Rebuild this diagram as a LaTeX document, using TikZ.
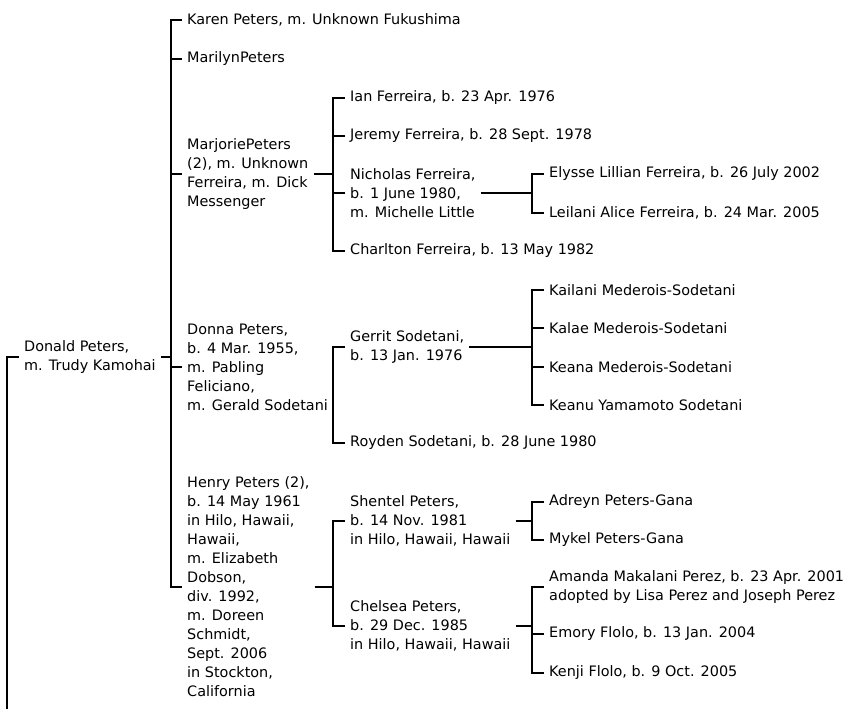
\documentclass[tikz,border=0pt]{standalone}
\usepackage{fontspec}
\setmainfont{DejaVu Sans}
\usepackage{tikz}

\begin{document}
\begin{tikzpicture}[x=1pt,y=-1pt,line join=miter,
  pers/.style={anchor=west,align=left,inner xsep=5pt,inner ysep=0pt,font=\fontsize{14.4}{19}\selectfont},
  link/.style={line width=1.5pt}]
\clip (0,0) rectangle (843,709);
\coordinate (root) at (7,715);
\coordinate (busA) at (171,0);
\coordinate (busB) at (333,0);
\coordinate (busC) at (532,0);
\node[pers] (donald) at (19,357) {Donald Peters,\\m. Trudy Kamohai};
\node[pers] (karen) at (182,20) {Karen Peters, m. Unknown Fukushima};
\node[pers] (marilyn) at (182,59) {MarilynPeters};
\node[pers] (marjorie) at (182,174) {MarjoriePeters\\(2), m. Unknown\\Ferreira, m. Dick\\Messenger};
\node[pers] (donna) at (182,367) {Donna Peters,\\b. 4 Mar. 1955,\\m. Pabling\\Feliciano,\\m. Gerald Sodetani};
\node[pers] (henry) at (182,587) {Henry Peters (2),\\b. 14 May 1961\\in Hilo, Hawaii,\\Hawaii,\\m. Elizabeth\\Dobson,\\div. 1992,\\m. Doreen\\Schmidt,\\Sept. 2006\\in Stockton,\\California};
\node[pers] (ian) at (345,98) {Ian Ferreira, b. 23 Apr. 1976};
\node[pers] (jeremy) at (345,136) {Jeremy Ferreira, b. 28 Sept. 1978};
\node[pers] (nicholas) at (345,193) {Nicholas Ferreira,\\b. 1 June 1980,\\m. Michelle Little};
\node[pers] (charlton) at (345,251) {Charlton Ferreira, b. 13 May 1982};
\node[pers] (gerrit) at (345,347) {Gerrit Sodetani,\\b. 13 Jan. 1976};
\node[pers] (royden) at (345,443) {Royden Sodetani, b. 28 June 1980};
\node[pers] (shentel) at (345,521) {Shentel Peters,\\b. 14 Nov. 1981\\in Hilo, Hawaii, Hawaii};
\node[pers] (chelsea) at (345,626) {Chelsea Peters,\\b. 29 Dec. 1985\\in Hilo, Hawaii, Hawaii};
\node[pers] (elysse) at (544,174) {Elysse Lillian Ferreira, b. 26 July 2002};
\node[pers] (leilani) at (544,213) {Leilani Alice Ferreira, b. 24 Mar. 2005};
\node[pers] (kailani) at (544,290) {Kailani Mederois-Sodetani};
\node[pers] (kalae) at (544,328) {Kalae Mederois-Sodetani};
\node[pers] (keana) at (544,367) {Keana Mederois-Sodetani};
\node[pers] (keanu) at (544,405) {Keanu Yamamoto Sodetani};
\node[pers] (adreyn) at (544,502) {Adreyn Peters-Gana};
\node[pers] (mykel) at (544,540) {Mykel Peters-Gana};
\node[pers] (amanda) at (544,587) {Amanda Makalani Perez, b. 23 Apr. 2001\\adopted by Lisa Perez and Joseph Perez};
\node[pers] (emory) at (544,634) {Emory Flolo, b. 13 Jan. 2004};
\node[pers] (kenji) at (544,673) {Kenji Flolo, b. 9 Oct. 2005};
\draw[link] (donald.west) -| (root);
\draw[link] (donald.east) -- (donald.east -| busA);
\draw[link] (karen.west) -| (busA |- henry.west) -- (henry.west);
\draw[link] (marilyn.west) -- (marilyn.west -| busA);
\draw[link] (marjorie.west) -- (marjorie.west -| busA);
\draw[link] (donna.west) -- (donna.west -| busA);
\draw[link] (marjorie.east) -- (marjorie.east -| busB);
\draw[link] (ian.west) -| (busB |- charlton.west) -- (charlton.west);
\draw[link] (jeremy.west) -- (jeremy.west -| busB);
\draw[link] (nicholas.west) -- (nicholas.west -| busB);
\draw[link] (nicholas.east) -- (nicholas.east -| busC);
\draw[link] (elysse.west) -| (busC |- leilani.west) -- (leilani.west);
\draw[link] (donna.east) -- (donna.east -| busB);
\draw[link] (gerrit.west) -| (busB |- royden.west) -- (royden.west);
\draw[link] (gerrit.east) -- (gerrit.east -| busC);
\draw[link] (kailani.west) -| (busC |- keanu.west) -- (keanu.west);
\draw[link] (kalae.west) -- (kalae.west -| busC);
\draw[link] (keana.west) -- (keana.west -| busC);
\draw[link] (henry.east) -- (henry.east -| busB);
\draw[link] (shentel.west) -| (busB |- chelsea.west) -- (chelsea.west);
\draw[link] (shentel.east) -- (shentel.east -| busC);
\draw[link] (adreyn.west) -| (busC |- mykel.west) -- (mykel.west);
\draw[link] (chelsea.east) -- (chelsea.east -| busC);
\draw[link] (amanda.west) -| (busC |- kenji.west) -- (kenji.west);
\draw[link] (emory.west) -- (emory.west -| busC);
\end{tikzpicture}
\end{document}
